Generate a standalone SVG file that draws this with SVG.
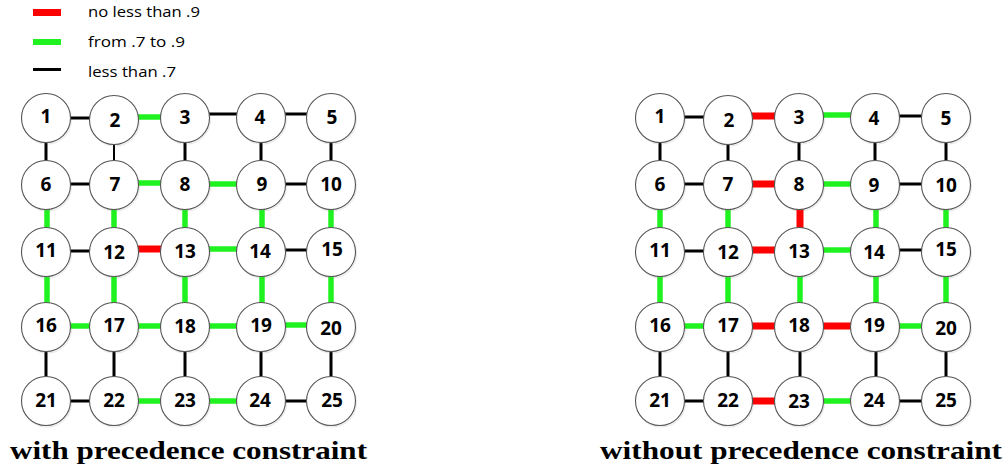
<svg xmlns="http://www.w3.org/2000/svg" width="1008" height="471" viewBox="0 0 1008 471">
<style>
.k{stroke:#000;stroke-width:3}
.g{stroke:#1ff21f;stroke-width:5.5}
.r{stroke:#ff0000;stroke-width:7}
.nd circle{fill:#fff;stroke:#555;stroke-width:1.1}
.sh{fill:#000;opacity:0.12}
.nd text{font-family:"Open Sans","Liberation Sans",sans-serif;font-weight:bold;font-size:19px;text-anchor:middle;fill:#000}
.lg{font-family:"Open Sans","Liberation Sans",sans-serif;font-size:14.5px;fill:#000}
.cap{font-family:"Liberation Serif","DejaVu Serif",serif;font-weight:bold;font-size:25px;fill:#000}
</style>
<rect width="1008" height="471" fill="#fff"/>
<g id="legend">
<rect x="33" y="9" width="28" height="7" fill="#ff0000"/>
<rect x="33" y="39" width="28" height="6" fill="#1ff21f"/>
<rect x="33" y="68" width="28" height="3" fill="#000"/>
<text class="lg" x="88" y="17" textLength="112" lengthAdjust="spacingAndGlyphs">no less than .9</text>
<text class="lg" x="88" y="47" textLength="97" lengthAdjust="spacingAndGlyphs">from .7 to .9</text>
<text class="lg" x="88" y="77" textLength="88" lengthAdjust="spacingAndGlyphs">less than .7</text>
</g>
<g id="connectors">
<!-- left grid horizontals -->
<line class="k" x1="46" y1="118" x2="114" y2="118"/>
<line class="g" x1="114" y1="117" x2="185" y2="117"/>
<line class="k" x1="185" y1="114" x2="261" y2="114"/>
<line class="k" x1="261" y1="114" x2="331" y2="114"/>
<line class="k" x1="46" y1="184" x2="114" y2="184"/>
<line class="g" x1="114" y1="183" x2="185" y2="183"/>
<line class="g" x1="185" y1="184" x2="261" y2="184"/>
<line class="k" x1="261" y1="184" x2="331" y2="184"/>
<line class="k" x1="46" y1="251" x2="114" y2="251"/>
<line class="r" x1="114" y1="249" x2="185" y2="249"/>
<line class="g" x1="185" y1="249" x2="261" y2="249"/>
<line class="k" x1="261" y1="250" x2="331" y2="250"/>
<line class="g" x1="46" y1="326" x2="114" y2="326"/>
<line class="g" x1="114" y1="326" x2="185" y2="326"/>
<line class="g" x1="185" y1="326" x2="261" y2="326"/>
<line class="g" x1="261" y1="325" x2="331" y2="325"/>
<line class="k" x1="46" y1="401" x2="114" y2="401"/>
<line class="g" x1="114" y1="401" x2="185" y2="401"/>
<line class="g" x1="185" y1="401" x2="261" y2="401"/>
<line class="k" x1="261" y1="401" x2="331" y2="401"/>
<!-- left grid verticals -->
<line class="k" x1="46" y1="118" x2="46" y2="185"/>
<line class="k" x1="114" y1="120" x2="114" y2="185" style="stroke-width:2"/>
<line class="k" x1="185" y1="118" x2="185" y2="185"/>
<line class="k" x1="261" y1="118" x2="261" y2="185"/>
<line class="k" x1="331" y1="118" x2="331" y2="185"/>
<line class="g" x1="47" y1="185" x2="47" y2="252"/>
<line class="g" x1="114" y1="185" x2="114" y2="252"/>
<line class="g" x1="185" y1="185" x2="185" y2="252"/>
<line class="g" x1="262" y1="185" x2="262" y2="252"/>
<line class="g" x1="331" y1="185" x2="331" y2="252"/>
<line class="g" x1="47" y1="252" x2="47" y2="327"/>
<line class="g" x1="114" y1="252" x2="114" y2="327"/>
<line class="g" x1="185" y1="252" x2="185" y2="327"/>
<line class="g" x1="262" y1="252" x2="262" y2="327"/>
<line class="g" x1="331" y1="252" x2="331" y2="327"/>
<line class="k" x1="46" y1="327" x2="46" y2="401"/>
<line class="k" x1="114" y1="327" x2="114" y2="401"/>
<line class="k" x1="185" y1="327" x2="185" y2="401"/>
<line class="k" x1="261" y1="327" x2="261" y2="401"/>
<line class="k" x1="331" y1="327" x2="331" y2="401"/>
<!-- right grid horizontals -->
<line class="k" x1="660" y1="117" x2="728" y2="117"/>
<line class="r" x1="728" y1="116" x2="799" y2="116"/>
<line class="g" x1="799" y1="115" x2="874" y2="115"/>
<line class="k" x1="874" y1="116" x2="946" y2="116"/>
<line class="k" x1="660" y1="184" x2="728" y2="184"/>
<line class="r" x1="728" y1="184" x2="799" y2="184"/>
<line class="g" x1="799" y1="184" x2="874" y2="184"/>
<line class="k" x1="874" y1="184" x2="946" y2="184"/>
<line class="k" x1="660" y1="251" x2="728" y2="251"/>
<line class="r" x1="728" y1="250" x2="799" y2="250"/>
<line class="g" x1="799" y1="250" x2="874" y2="250"/>
<line class="k" x1="874" y1="250" x2="946" y2="250"/>
<line class="g" x1="660" y1="326" x2="728" y2="326"/>
<line class="r" x1="728" y1="326" x2="799" y2="326"/>
<line class="r" x1="799" y1="326" x2="874" y2="326"/>
<line class="g" x1="874" y1="326" x2="946" y2="326"/>
<line class="k" x1="660" y1="401" x2="728" y2="401"/>
<line class="r" x1="728" y1="401" x2="799" y2="401"/>
<line class="g" x1="799" y1="401" x2="874" y2="401"/>
<line class="k" x1="874" y1="401" x2="946" y2="401"/>
<!-- right grid verticals -->
<line class="k" x1="660" y1="118" x2="660" y2="185"/>
<line class="k" x1="728" y1="120" x2="728" y2="185"/>
<line class="k" x1="799" y1="118" x2="799" y2="185"/>
<line class="k" x1="875" y1="118" x2="875" y2="185"/>
<line class="k" x1="946" y1="118" x2="946" y2="185"/>
<line class="g" x1="660" y1="185" x2="660" y2="252"/>
<line class="g" x1="728" y1="185" x2="728" y2="252"/>
<line class="r" x1="800" y1="185" x2="800" y2="252"/>
<line class="g" x1="876" y1="185" x2="876" y2="252"/>
<line class="g" x1="946" y1="185" x2="946" y2="252"/>
<line class="g" x1="660" y1="252" x2="660" y2="327"/>
<line class="g" x1="728" y1="252" x2="728" y2="327"/>
<line class="g" x1="800" y1="252" x2="800" y2="327"/>
<line class="g" x1="876" y1="252" x2="876" y2="327"/>
<line class="g" x1="946" y1="252" x2="946" y2="327"/>
<line class="k" x1="660" y1="327" x2="660" y2="401"/>
<line class="k" x1="728" y1="327" x2="728" y2="401"/>
<line class="k" x1="800" y1="327" x2="800" y2="401"/>
<line class="k" x1="876" y1="327" x2="876" y2="401"/>
<line class="k" x1="946" y1="327" x2="946" y2="401"/>
</g>
<!-- left grid nodes -->
<g id="L1" class="nd"><circle class="sh" cx="47" cy="119.5" r="24.5"/><circle cx="46" cy="118" r="24.5"/><text x="46" y="123">1</text></g>
<g id="L2" class="nd"><circle class="sh" cx="115" cy="121.5" r="24.5"/><circle cx="114" cy="120" r="24.5"/><text x="115" y="127">2</text></g>
<g id="L3" class="nd"><circle class="sh" cx="186" cy="119.5" r="24.5"/><circle cx="185" cy="118" r="24.5"/><text x="185" y="124">3</text></g>
<g id="L4" class="nd"><circle class="sh" cx="262" cy="119.5" r="24.5"/><circle cx="261" cy="118" r="24.5"/><text x="260" y="124">4</text></g>
<g id="L5" class="nd"><circle class="sh" cx="332" cy="119.5" r="24.5"/><circle cx="331" cy="118" r="24.5"/><text x="332" y="124">5</text></g>
<g id="L6" class="nd"><circle class="sh" cx="47" cy="186.5" r="24.5"/><circle cx="46" cy="185" r="24.5"/><text x="46" y="191">6</text></g>
<g id="L7" class="nd"><circle class="sh" cx="115" cy="186.5" r="24.5"/><circle cx="114" cy="185" r="24.5"/><text x="115" y="191">7</text></g>
<g id="L8" class="nd"><circle class="sh" cx="186" cy="186.5" r="24.5"/><circle cx="185" cy="185" r="24.5"/><text x="185" y="191">8</text></g>
<g id="L9" class="nd"><circle class="sh" cx="262" cy="186.5" r="24.5"/><circle cx="261" cy="185" r="24.5"/><text x="262" y="191">9</text></g>
<g id="L10" class="nd"><circle class="sh" cx="332" cy="186.5" r="24.5"/><circle cx="331" cy="185" r="24.5"/><text x="331" y="191">10</text></g>
<g id="L11" class="nd"><circle class="sh" cx="47" cy="253.5" r="24.5"/><circle cx="46" cy="252" r="24.5"/><text x="46" y="257">11</text></g>
<g id="L12" class="nd"><circle class="sh" cx="115" cy="253.5" r="24.5"/><circle cx="114" cy="252" r="24.5"/><text x="114" y="259">12</text></g>
<g id="L13" class="nd"><circle class="sh" cx="186" cy="253.5" r="24.5"/><circle cx="185" cy="252" r="24.5"/><text x="185" y="258">13</text></g>
<g id="L14" class="nd"><circle class="sh" cx="262" cy="253.5" r="24.5"/><circle cx="261" cy="252" r="24.5"/><text x="260" y="258">14</text></g>
<g id="L15" class="nd"><circle class="sh" cx="332" cy="253.5" r="24.5"/><circle cx="331" cy="252" r="24.5"/><text x="332" y="256">15</text></g>
<g id="L16" class="nd"><circle class="sh" cx="47" cy="328.5" r="24.5"/><circle cx="46" cy="327" r="24.5"/><text x="46" y="332">16</text></g>
<g id="L17" class="nd"><circle class="sh" cx="115" cy="328.5" r="24.5"/><circle cx="114" cy="327" r="24.5"/><text x="114" y="332">17</text></g>
<g id="L18" class="nd"><circle class="sh" cx="186" cy="328.5" r="24.5"/><circle cx="185" cy="327" r="24.5"/><text x="185" y="333">18</text></g>
<g id="L19" class="nd"><circle class="sh" cx="262" cy="328.5" r="24.5"/><circle cx="261" cy="327" r="24.5"/><text x="261" y="332">19</text></g>
<g id="L20" class="nd"><circle class="sh" cx="332" cy="328.5" r="24.5"/><circle cx="331" cy="327" r="24.5"/><text x="331" y="335">20</text></g>
<g id="L21" class="nd"><circle class="sh" cx="47" cy="402.5" r="24.5"/><circle cx="46" cy="401" r="24.5"/><text x="46" y="407">21</text></g>
<g id="L22" class="nd"><circle class="sh" cx="115" cy="402.5" r="24.5"/><circle cx="114" cy="401" r="24.5"/><text x="114" y="407">22</text></g>
<g id="L23" class="nd"><circle class="sh" cx="186" cy="402.5" r="24.5"/><circle cx="185" cy="401" r="24.5"/><text x="185" y="407">23</text></g>
<g id="L24" class="nd"><circle class="sh" cx="262" cy="402.5" r="24.5"/><circle cx="261" cy="401" r="24.5"/><text x="260" y="407">24</text></g>
<g id="L25" class="nd"><circle class="sh" cx="332" cy="402.5" r="24.5"/><circle cx="331" cy="401" r="24.5"/><text x="332" y="407">25</text></g>
<!-- right grid nodes -->
<g id="R1" class="nd"><circle class="sh" cx="661" cy="119.5" r="24.5"/><circle cx="660" cy="118" r="24.5"/><text x="660" y="123">1</text></g>
<g id="R2" class="nd"><circle class="sh" cx="729" cy="121.5" r="24.5"/><circle cx="728" cy="120" r="24.5"/><text x="729" y="127">2</text></g>
<g id="R3" class="nd"><circle class="sh" cx="800" cy="119.5" r="24.5"/><circle cx="799" cy="118" r="24.5"/><text x="799" y="124">3</text></g>
<g id="R4" class="nd"><circle class="sh" cx="876" cy="119.5" r="24.5"/><circle cx="875" cy="118" r="24.5"/><text x="874" y="125">4</text></g>
<g id="R5" class="nd"><circle class="sh" cx="947" cy="119.5" r="24.5"/><circle cx="946" cy="118" r="24.5"/><text x="946" y="125">5</text></g>
<g id="R6" class="nd"><circle class="sh" cx="661" cy="186.5" r="24.5"/><circle cx="660" cy="185" r="24.5"/><text x="660" y="191">6</text></g>
<g id="R7" class="nd"><circle class="sh" cx="729" cy="186.5" r="24.5"/><circle cx="728" cy="185" r="24.5"/><text x="728" y="191">7</text></g>
<g id="R8" class="nd"><circle class="sh" cx="800" cy="186.5" r="24.5"/><circle cx="799" cy="185" r="24.5"/><text x="799" y="191">8</text></g>
<g id="R9" class="nd"><circle class="sh" cx="876" cy="186.5" r="24.5"/><circle cx="875" cy="185" r="24.5"/><text x="874" y="192">9</text></g>
<g id="R10" class="nd"><circle class="sh" cx="947" cy="186.5" r="24.5"/><circle cx="946" cy="185" r="24.5"/><text x="946" y="192">10</text></g>
<g id="R11" class="nd"><circle class="sh" cx="661" cy="253.5" r="24.5"/><circle cx="660" cy="252" r="24.5"/><text x="660" y="257">11</text></g>
<g id="R12" class="nd"><circle class="sh" cx="729" cy="253.5" r="24.5"/><circle cx="728" cy="252" r="24.5"/><text x="728" y="259">12</text></g>
<g id="R13" class="nd"><circle class="sh" cx="800" cy="253.5" r="24.5"/><circle cx="799" cy="252" r="24.5"/><text x="799" y="258">13</text></g>
<g id="R14" class="nd"><circle class="sh" cx="876" cy="253.5" r="24.5"/><circle cx="875" cy="252" r="24.5"/><text x="874" y="259">14</text></g>
<g id="R15" class="nd"><circle class="sh" cx="947" cy="253.5" r="24.5"/><circle cx="946" cy="252" r="24.5"/><text x="946" y="256">15</text></g>
<g id="R16" class="nd"><circle class="sh" cx="661" cy="328.5" r="24.5"/><circle cx="660" cy="327" r="24.5"/><text x="660" y="332">16</text></g>
<g id="R17" class="nd"><circle class="sh" cx="729" cy="328.5" r="24.5"/><circle cx="728" cy="327" r="24.5"/><text x="728" y="332">17</text></g>
<g id="R18" class="nd"><circle class="sh" cx="800" cy="328.5" r="24.5"/><circle cx="799" cy="327" r="24.5"/><text x="799" y="332">18</text></g>
<g id="R19" class="nd"><circle class="sh" cx="876" cy="328.5" r="24.5"/><circle cx="875" cy="327" r="24.5"/><text x="874" y="332">19</text></g>
<g id="R20" class="nd"><circle class="sh" cx="947" cy="328.5" r="24.5"/><circle cx="946" cy="327" r="24.5"/><text x="946" y="335">20</text></g>
<g id="R21" class="nd"><circle class="sh" cx="661" cy="402.5" r="24.5"/><circle cx="660" cy="401" r="24.5"/><text x="660" y="407">21</text></g>
<g id="R22" class="nd"><circle class="sh" cx="729" cy="402.5" r="24.5"/><circle cx="728" cy="401" r="24.5"/><text x="728" y="407">22</text></g>
<g id="R23" class="nd"><circle class="sh" cx="800" cy="402.5" r="24.5"/><circle cx="799" cy="401" r="24.5"/><text x="799" y="408">23</text></g>
<g id="R24" class="nd"><circle class="sh" cx="876" cy="402.5" r="24.5"/><circle cx="875" cy="401" r="24.5"/><text x="874" y="407">24</text></g>
<g id="R25" class="nd"><circle class="sh" cx="947" cy="402.5" r="24.5"/><circle cx="946" cy="401" r="24.5"/><text x="946" y="407">25</text></g>
<g id="captions">
<text class="cap" x="10" y="459" textLength="357" lengthAdjust="spacingAndGlyphs">with precedence constraint</text>
<text class="cap" x="600" y="459" textLength="402" lengthAdjust="spacingAndGlyphs">without precedence constraint</text>
</g>
</svg>
